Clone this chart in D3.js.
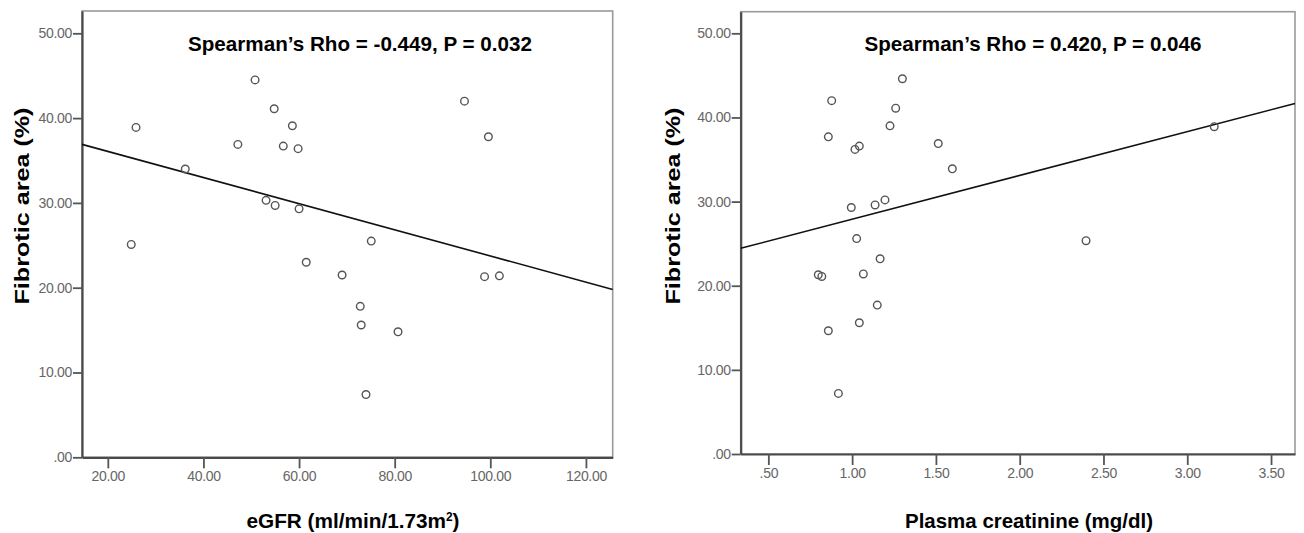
<!DOCTYPE html>
<html><head><meta charset="utf-8">
<script src="https://cdn.jsdelivr.net/npm/d3@7"></script>
<style>
html,body{margin:0;padding:0;background:#fff;}
svg{display:block;}
</style></head>
<body>
<svg id="chart" width="1304" height="533"></svg>
<script>
// ---- data ----
const egfr = [25.9, 24.9, 36.2, 47.2, 50.8, 54.8, 58.6, 56.7, 59.8, 53.1, 55.0, 60.0, 61.5, 69.0, 72.8, 73.0, 74.0, 75.1, 80.7, 94.6, 99.6, 98.8, 101.9];
const fibroticLeft = [38.9, 25.1, 34.0, 36.9, 44.5, 41.1, 39.1, 36.7, 36.4, 30.3, 29.7, 29.3, 23.0, 21.5, 17.8, 15.6, 7.4, 25.5, 14.8, 42.0, 37.8, 21.3, 21.4];
const creatinine = [0.878, 0.858, 1.30, 1.26, 1.226, 1.017, 1.043, 1.514, 1.598, 0.995, 1.137, 1.196, 1.027, 1.167, 0.798, 0.819, 1.067, 1.150, 1.043, 0.858, 0.918, 3.161, 2.396];
const fibroticRight = [42.0, 37.7, 44.6, 41.1, 39.0, 36.2, 36.6, 36.9, 33.9, 29.3, 29.6, 30.2, 25.6, 23.2, 21.3, 21.1, 21.4, 17.7, 15.6, 14.65, 7.2, 38.9, 25.35];
const fitLeft = [[14.6, 36.9], [125.6, 19.8]];
const fitRight = [[0.335, 24.45], [3.643, 41.66]];
const yTicks = [0, 10, 20, 30, 40, 50];
const xTicksLeft = [20, 40, 60, 80, 100, 120];
const xTicksRight = [0.5, 1.0, 1.5, 2.0, 2.5, 3.0, 3.5];
const titles = ["Spearman\u2019s Rho = -0.449, P = 0.032", "Spearman\u2019s Rho = 0.420, P = 0.046"];
const yLabel = "Fibrotic area  (%)";

const svg = d3.select("#chart");
const fmt = v => d3.format(".2f")(v).replace(/^0\./, ".");
const BOLD = "'Liberation Sans Narrow','Arial Narrow','Liberation Sans',Arial,sans-serif";
const TICKF = "'Liberation Sans Narrow','Arial Narrow','Liberation Sans',Arial,sans-serif";

function panel(cfg) {
  const g = svg.append("g");
  const x = d3.scaleLinear().domain(cfg.xDomain).range([cfg.x0, cfg.x1]);
  const y = d3.scaleLinear().domain(cfg.yDomain).range([cfg.y1, cfg.y0]);

  // frame
  g.append("rect").attr("x", cfg.x0).attr("y", cfg.y0)
    .attr("width", cfg.x1 - cfg.x0).attr("height", cfg.y1 - cfg.y0)
    .attr("fill", "#fff").attr("stroke", "#9a9a9a").attr("stroke-width", 1.6);

  // axes
  const ya = g.append("g").attr("transform", `translate(${cfg.x0},0)`)
    .call(d3.axisLeft(y).tickValues(yTicks).tickFormat(fmt).tickSize(9).tickSizeOuter(0).tickPadding(1));
  const xa = g.append("g").attr("transform", `translate(0,${cfg.y1})`)
    .call(d3.axisBottom(x).tickValues(cfg.xTicks).tickFormat(fmt).tickSize(11).tickSizeOuter(0).tickPadding(3));
  [ya, xa].forEach(a => {
    a.select(".domain").attr("stroke", "#4a4a4a").attr("stroke-width", 2.2);
    a.selectAll(".tick line").attr("stroke", "#555").attr("stroke-width", 1.8);
    a.selectAll(".tick text").attr("fill", "#666").attr("font-size", 14)
      .attr("font-family", TICKF).attr("letter-spacing", "-0.3px");
  });

  // fit line
  g.append("line")
    .attr("x1", x(cfg.fit[0][0])).attr("y1", y(cfg.fit[0][1]))
    .attr("x2", x(cfg.fit[1][0])).attr("y2", y(cfg.fit[1][1]))
    .attr("stroke", "#111").attr("stroke-width", 1.6);

  // points
  g.selectAll("circle.pt").data(cfg.xs.map((v, i) => [v, cfg.ys[i]])).join("circle")
    .attr("class", "pt")
    .attr("cx", d => x(d[0])).attr("cy", d => y(d[1])).attr("r", 3.8)
    .attr("fill", "none").attr("stroke", "#555").attr("stroke-width", 1.4);

  // title
  g.append("text").attr("x", cfg.titleX).attr("y", 51).attr("text-anchor", "middle")
    .attr("font-family", BOLD).attr("font-weight", "bold").attr("font-size", 21)
    .attr("textLength", cfg.titleLen).attr("lengthAdjust", "spacingAndGlyphs")
    .attr("fill", "#000").text(cfg.title);

  // y label
  g.append("text").attr("transform", `translate(${cfg.yLabX},206) rotate(-90)`)
    .attr("text-anchor", "middle")
    .attr("font-family", "'Liberation Sans',Arial,sans-serif").attr("font-weight", "bold").attr("font-size", 21)
    .attr("textLength", 197).attr("lengthAdjust", "spacingAndGlyphs")
    .attr("fill", "#000").text(yLabel);

  // x label
  const xl = g.append("text").attr("x", cfg.xLabX).attr("y", 528).attr("text-anchor", "middle")
    .attr("font-family", BOLD).attr("font-weight", "bold").attr("font-size", 21)
    .attr("textLength", cfg.xLabLen).attr("lengthAdjust", "spacingAndGlyphs")
    .attr("fill", "#000");
  cfg.xLabel.forEach(p => {
    const t = xl.append("tspan").text(p.t);
    if (p.sup) t.attr("baseline-shift", "super").attr("font-size", 12);
  });
}

panel({
  xDomain: [14.6, 125.6], yDomain: [0, 52.63],
  x0: 82, x1: 612.7, y0: 11, y1: 457.3,
  xTicks: xTicksLeft, xs: egfr, ys: fibroticLeft, fit: fitLeft,
  title: titles[0], titleX: 360, titleLen: 344,
  yLabX: 29, xLabX: 353, xLabLen: 213,
  xLabel: [{t: "eGFR (ml/min/1.73m"}, {t: "2", sup: true}, {t: ")"}]
});
panel({
  xDomain: [0.335, 3.643], yDomain: [0, 52.57],
  x0: 740.7, x1: 1295, y0: 11.7, y1: 454,
  xTicks: xTicksRight, xs: creatinine, ys: fibroticRight, fit: fitRight,
  title: titles[1], titleX: 1033, titleLen: 337,
  yLabX: 680, xLabX: 1029, xLabLen: 248,
  xLabel: [{t: "Plasma creatinine (mg/dl)"}]
});
</script>
</body></html>
